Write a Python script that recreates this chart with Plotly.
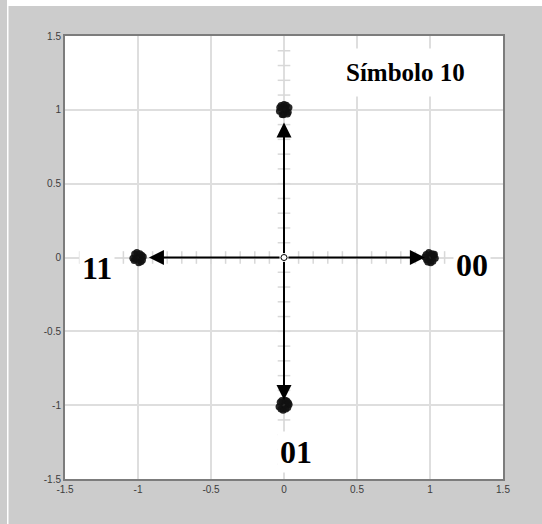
import numpy as np
import plotly.graph_objects as go

# Ideal QPSK constellation points and their bit labels
sym_bits = ["00", "10", "11", "01"]
sym_i = [1.0, 0.0, -1.0, 0.0]
sym_q = [0.0, 1.0, 0.0, -1.0]

# Received (noisy) samples around each symbol
rx_i = [
    1.00, 1.026, 0.974, 1.020, 0.976, 1.036, 0.992, 1.005, 0.965, 1.013, 1.030, 0.985,
    0.006, 0.029, -0.020, 0.016, -0.031, 0.034, -0.013, 0.023, -0.029, 0.0, -0.004, 0.012,
    -1.00, -0.974, -1.026, -0.980, -1.023, -0.964, -1.008, -0.995, -1.035, -0.987, -1.016, -0.970,
    0.0, 0.026, -0.026, 0.020, -0.021, 0.035, -0.006, 0.008, -0.034, 0.013, 0.030, -0.015,
]
rx_q = [
    0.0, 0.013, 0.020, -0.026, -0.016, -0.005, 0.034, -0.035, 0.003, 0.026, 0.022, -0.030,
    1.0, 0.984, 1.029, 1.031, 0.990, 1.016, 0.969, 0.971, 1.016, 1.036, 0.966, 1.004,
    0.0, 0.016, -0.020, -0.029, 0.023, 0.005, 0.034, -0.035, -0.005, 0.026, -0.012, -0.018,
    -1.0, -1.016, -0.980, -0.971, -1.026, -0.995, -1.035, -0.966, -1.010, -1.026, -0.984, -0.968,
]

# Where each arrow head ends (slightly short of the symbol)
tip_i = [0.965, 0.0, -0.925, 0.0]
tip_q = [0.0, 0.915, 0.0, -0.965]

axis_ticks = [-1.5, -1, -0.5, 0, 0.5, 1, 1.5]
axis_ticktext = ["-1.5", "-1", "-0.5", "0", "0.5", "1", "1.5"]

W, H = 542, 524
ML, MR, MT, MB = 65, 39, 36, 45
PW, PH = W - ML - MR, H - MT - MB


def px_x(px):
    return (px - ML) / PW


def px_y(py):
    return (H - MB - py) / PH


fig = go.Figure()

# minor tick marks along the centre axes
minor = [round(v, 1) for v in np.arange(-1.4, 1.45, 0.1) if abs(v) > 1e-9]
fig.add_trace(go.Scatter(
    x=minor, y=[0] * len(minor), mode="markers",
    marker=dict(symbol="line-ns", size=9, line=dict(color="#d8d8d8", width=1.5)),
    hoverinfo="skip", showlegend=False))
fig.add_trace(go.Scatter(
    x=[0] * len(minor), y=minor, mode="markers",
    marker=dict(symbol="line-ew", size=9, line=dict(color="#d8d8d8", width=1.5)),
    hoverinfo="skip", showlegend=False))

# received samples
fig.add_trace(go.Scatter(
    x=rx_i, y=rx_q, mode="markers",
    marker=dict(symbol="circle", size=7, color="#111111", opacity=0.9),
    showlegend=False))

# origin
fig.add_trace(go.Scatter(
    x=[0], y=[0], mode="markers",
    marker=dict(symbol="circle", size=6, color="white", line=dict(color="black", width=1)),
    showlegend=False))

# arrows from origin to each symbol
for ti, tq in zip(tip_i, tip_q):
    fig.add_annotation(
        x=ti, y=tq, ax=0, ay=0, xref="x", yref="y", axref="x", ayref="y",
        text="", showarrow=True, arrowhead=2, arrowsize=1.5, arrowwidth=2,
        arrowcolor="black", startstandoff=3, standoff=0)

label_font = dict(family="Liberation Serif", size=32, color="black")
labels = {"00": (1.29, -0.054), "11": (-1.28, -0.068), "01": (0.079, -1.32)}
for b in sym_bits:
    if b in labels:
        lx, ly = labels[b]
        fig.add_annotation(
            x=lx, y=ly, xref="x", yref="y", text=f"<b>{b}</b>", showarrow=False,
            font=label_font, bgcolor="white", borderpad=2)

fig.add_annotation(
    x=0.832, y=1.253, xref="x", yref="y", text="<b>Símbolo 10</b>", showarrow=False,
    font=dict(family="Liberation Serif", size=25, color="black"),
    bgcolor="white", borderpad=10)

# light outer frame strips
fig.add_shape(type="rect", xref="paper", yref="paper",
              x0=px_x(7), x1=px_x(W + 2), y0=px_y(6), y1=px_y(-2),
              fillcolor="white", line=dict(width=0), layer="below")
fig.add_shape(type="rect", xref="paper", yref="paper",
              x0=px_x(7), x1=px_x(8.5), y0=px_y(H + 2), y1=px_y(-2),
              fillcolor="white", line=dict(width=0), layer="below")

axis_common = dict(
    range=[-1.5, 1.5], tickvals=axis_ticks, ticktext=axis_ticktext,
    showgrid=True, gridcolor="#dedede", gridwidth=1.5,
    zeroline=False, showline=True, linecolor="#7c7c7c", linewidth=2, mirror=True,
    ticks="", tickfont=dict(family="Liberation Sans", size=10, color="#3c3c3c"),
    fixedrange=True,
)

fig.update_layout(
    width=W, height=H,
    margin=dict(l=ML, r=MR, t=MT, b=MB),
    paper_bgcolor="#cccccc", plot_bgcolor="white",
    xaxis=axis_common, yaxis=axis_common,
    showlegend=False,
)

fig.write_html("out.html")
